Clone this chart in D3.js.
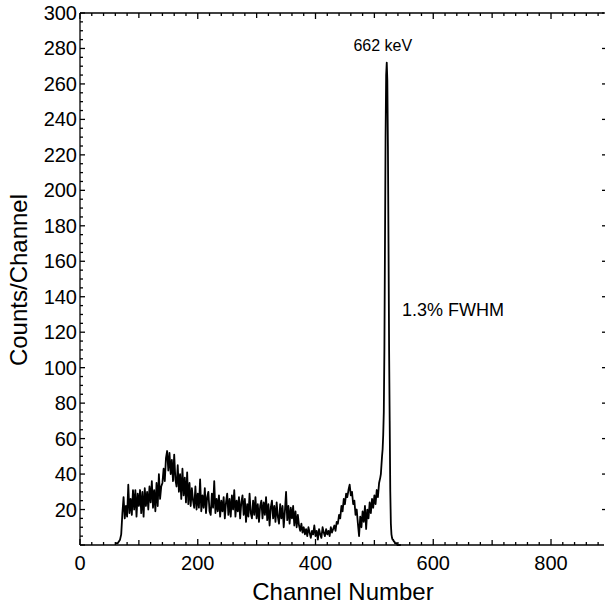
<!DOCTYPE html>
<html><head><meta charset="utf-8">
<script src="https://cdn.jsdelivr.net/npm/d3@7"></script>
<style>body{margin:0;background:#fff}svg{display:block}text{font-family:"Liberation Sans",Arial,sans-serif;fill:#000}</style>
</head><body><svg id="c" width="605" height="605"></svg>
<script>
// Continuum: counts every 2 channels starting at channel 60
const continuumStart = 60;
const continuumStep = 2;
const continuumCounts = [1,1,1,2,3,6,18,27,15,22,16,34,18,26,17,31,20,31,16,29,22,31,18,30,16,32,22,30,20,33,24,36,21,31,19,35,22,40,26,33,35,43,36,49,53,42,52,40,48,36,51,37,33,45,30,40,26,43,28,38,24,41,23,35,22,32,25,21,33,20,29,21,37,19,28,21,32,18,27,30,19,17,29,21,36,18,26,19,28,16,25,19,27,15,24,29,17,26,16,28,20,31,16,25,19,27,15,24,28,17,26,13,23,16,29,18,15,25,17,27,15,23,13,22,25,15,24,17,27,14,23,11,21,25,15,22,13,24,16,12,23,15,22,10,19,30,14,22,12,21,15,22,11,19,10,17,11,8,12,7,10,6,9,5,10,7,4,8,6,11,5,8,3,9,6,4,10,7,5,9,6,8,5,10,7,9,11,8,13,12,17,15,22,19,26,23,29,27,31,34,28,30,23,25,17,20,12,5,16,10,19,13,22,9,20,15,24,18,26,21,28,23,31,27,35];
// Photopeak region: channel-by-channel
const peakChannels = [510,511,512,513,514,515,516,517,518,519,520,521,522,523,524,525,526,527,528,529,530,531,532,533,534,535,536,537,538,539,540,545];
const peakCounts =   [38,40,45,50,54,62,75,110,170,230,265,272,262,225,170,110,70,30,12,6,4,3,3,2,2,1,1,1,1,0,0,0];
const xTickLabels = [0,200,400,600,800];
const yTickLabels = [20,40,60,80,100,120,140,160,180,200,220,240,260,280,300];

const data = continuumCounts.map((v,i)=>({ch:continuumStart+i*continuumStep, v}))
  .filter(d=>d.ch<510)
  .concat(peakChannels.map((c,i)=>({ch:c, v:peakCounts[i]})));

const svg = d3.select("#c");
const L=80, R=604, T=13, B=545;
const x = d3.scaleLinear().domain([0,890]).range([L,R]);
const y = d3.scaleLinear().domain([0,300]).range([B,T]);

// spectrum
svg.append("path").datum(data)
  .attr("d", d3.line().x(d=>x(d.ch)).y(d=>y(d.v)))
  .attr("fill","none").attr("stroke","#000").attr("stroke-width",1.8).attr("stroke-linejoin","round");

const ax = svg.append("g").attr("stroke","#000").attr("stroke-width",1.3);
ax.append("line").attr("x1",L).attr("x2",R).attr("y1",B).attr("y2",B);
ax.append("line").attr("x1",L).attr("x2",R).attr("y1",T).attr("y2",T);
ax.append("line").attr("x1",L).attr("x2",L).attr("y1",T).attr("y2",B);

// x ticks (bottom & top, inward)
d3.range(0,891,20).forEach(c=>{
  const len = c%200===0?6:(c%100===0?5:3);
  ax.append("line").attr("x1",x(c)).attr("x2",x(c)).attr("y1",B).attr("y2",B-len);
  ax.append("line").attr("x1",x(c)).attr("x2",x(c)).attr("y1",T).attr("y2",T+len);
});
// y ticks (left inward)
d3.range(0,301,5).forEach(v=>{
  const len = v%20===0?5:3;
  ax.append("line").attr("x1",L).attr("x2",L+len).attr("y1",y(v)).attr("y2",y(v));
});
// right side ticks
yTickLabels.forEach(v=>{
  ax.append("line").attr("x1",R-2).attr("x2",R+1).attr("y1",y(v)).attr("y2",y(v));
});

svg.append("g").selectAll("text").data(xTickLabels).join("text")
  .attr("x",d=>x(d)).attr("y",570).attr("text-anchor","middle").attr("font-size",20).text(d=>d);
svg.append("g").selectAll("text").data(yTickLabels).join("text")
  .attr("x",77).attr("y",d=>y(d)+7).attr("text-anchor","end").attr("font-size",20).text(d=>d);

svg.append("text").attr("x",343).attr("y",600).attr("text-anchor","middle").attr("font-size",24).text("Channel Number");
svg.append("text").attr("transform","translate(27,280) rotate(-90)").attr("text-anchor","middle").attr("font-size",24).text("Counts/Channel");

svg.append("text").attr("x",x(521)-4).attr("y",51).attr("text-anchor","middle").attr("font-size",16).text("662 keV");
svg.append("text").attr("x",402).attr("y",316).attr("text-anchor","start").attr("font-size",18).text("1.3% FWHM");
</script></body></html>
